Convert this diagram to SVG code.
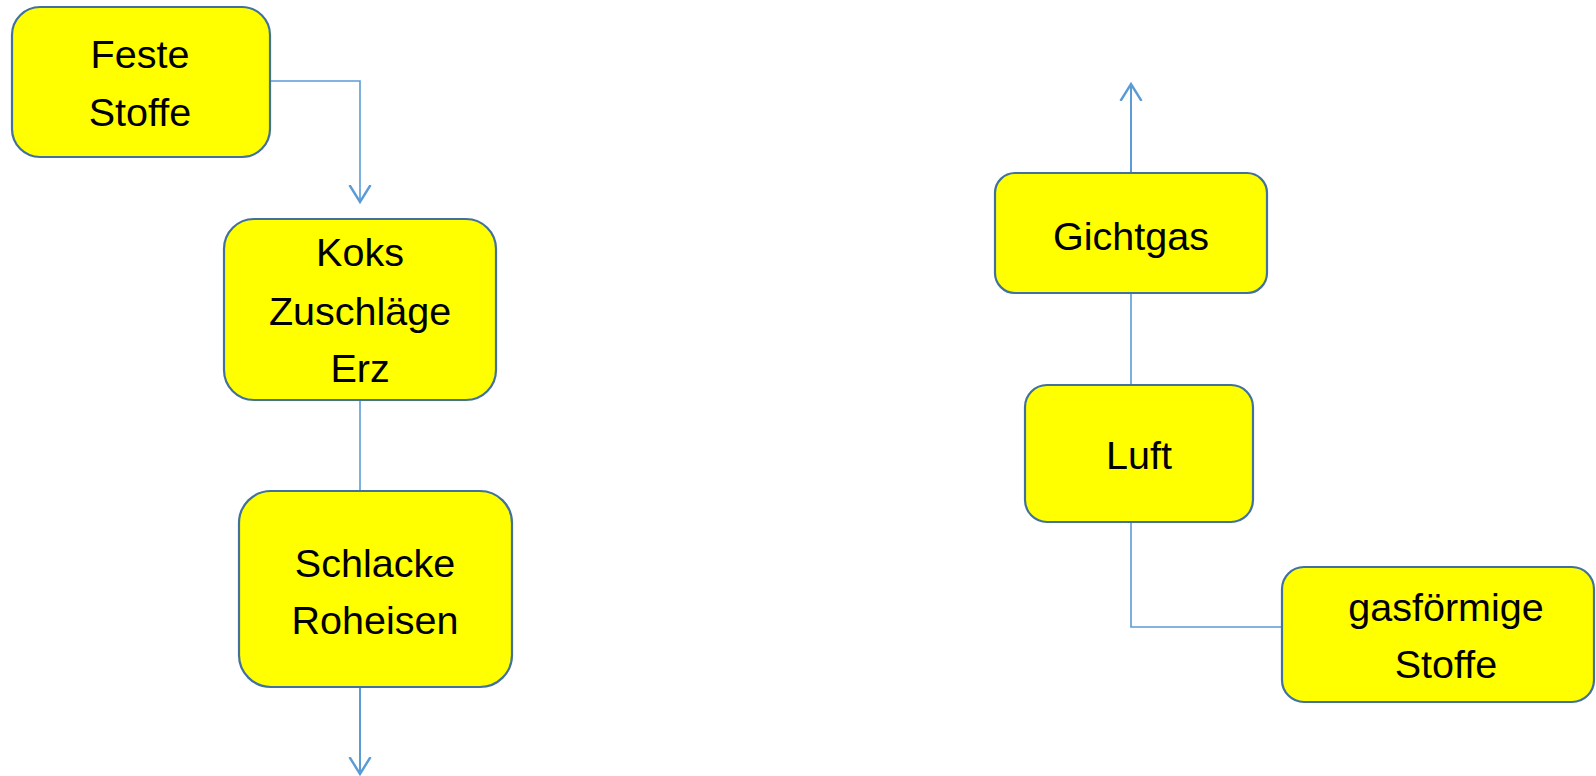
<svg xmlns="http://www.w3.org/2000/svg" width="1596" height="776" viewBox="0 0 1596 776">
  <defs>
    <marker id="arrow" viewBox="0 0 24 24" refX="17" refY="12" markerWidth="24" markerHeight="24" markerUnits="userSpaceOnUse" orient="auto">
      <path d="M0,1.5 L17,12 L0,22.5" fill="none" stroke="#5B9BD5" stroke-width="2.4"/>
    </marker>
  </defs>
  <style>
    .box { fill: #FFFF00; stroke: #41719C; stroke-width: 2.2; }
    .lbl { font-family: "Liberation Sans", Arial, sans-serif; font-size: 39.5px; fill: #000; text-anchor: middle; }
    .conn { fill: none; stroke: #5B9BD5; stroke-width: 1.6; }
    .flow { stroke-width: 2; }
  </style>
  <rect width="1596" height="776" fill="#FFFFFF"/>

  <g id="connectors">
    <path class="conn" d="M270,81 H360 V202" marker-end="url(#arrow)"/>
    <path class="conn" d="M360,400 V491"/>
    <path class="conn flow" d="M360,687 V774" marker-end="url(#arrow)"/>
    <path class="conn flow" d="M1131,173 V84" marker-end="url(#arrow)"/>
    <path class="conn" d="M1131,293 V385"/>
    <path class="conn" d="M1282,627 H1131 V522"/>
  </g>

  <g id="node-feste-stoffe">
    <rect class="box" x="12" y="7" width="258" height="150" rx="28"/>
    <text class="lbl" x="140" y="68">Feste</text>
    <text class="lbl" x="140" y="126">Stoffe</text>
  </g>

  <g id="node-koks">
    <rect class="box" x="224" y="219" width="272" height="181" rx="30"/>
    <text class="lbl" x="360" y="266">Koks</text>
    <text class="lbl" x="360" y="325">Zuschläge</text>
    <text class="lbl" x="360" y="382">Erz</text>
  </g>

  <g id="node-schlacke">
    <rect class="box" x="239" y="491" width="273" height="196" rx="32"/>
    <text class="lbl" x="375" y="577">Schlacke</text>
    <text class="lbl" x="375" y="634">Roheisen</text>
  </g>

  <g id="node-gichtgas">
    <rect class="box" x="995" y="173" width="272" height="120" rx="20"/>
    <text class="lbl" x="1131" y="250">Gichtgas</text>
  </g>

  <g id="node-luft">
    <rect class="box" x="1025" y="385" width="228" height="137" rx="22"/>
    <text class="lbl" x="1139" y="469">Luft</text>
  </g>

  <g id="node-gasfoermige-stoffe">
    <rect class="box" x="1282" y="567" width="312" height="135" rx="22"/>
    <text class="lbl" x="1446" y="621">gasförmige</text>
    <text class="lbl" x="1446" y="678">Stoffe</text>
  </g>
</svg>
